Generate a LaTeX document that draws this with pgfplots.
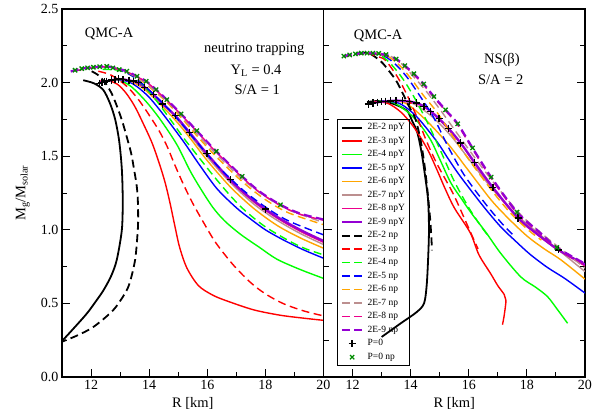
\documentclass[border=0pt]{standalone}
\usepackage{fontspec}
\setmainfont{Liberation Serif}
\usepackage{pgfplots}
\pgfplotsset{compat=1.18}
\definecolor{ggreen}{RGB}{0,255,0}
\definecolor{gorange}{RGB}{255,165,0}
\definecolor{gbrown}{RGB}{188,143,143}
\definecolor{gviolet}{RGB}{148,0,211}
\definecolor{ggreenfour}{RGB}{0,139,0}
\pgfplotsset{
  panel/.style={
    scale only axis, width=261.5pt, height=368pt,
    xmin=11, xmax=20, ymin=0, ymax=2.5,
    xtick={12,14,...,20}, minor xtick={11,13,...,19},
    ytick={0,0.5,...,2.5}, minor ytick={0.25,0.75,...,2.25},
    tick align=inside, major tick length=8pt, minor tick length=5pt,
    xtick pos=left,
    axis line style={line width=1.1pt},
    every tick/.style={black, line width=0.9pt},
    ticklabel style={font=\fontsize{14}{16}\selectfont},
    /pgf/number format/assume math mode=true,
    yticklabel style={/pgf/number format/fixed, /pgf/number format/fixed zerofill, /pgf/number format/precision=1},
    xlabel={R [km]},
    every axis x label/.style={at={(axis description cs:0.5,-0.073)}, anchor=center, font=\fontsize{14.5}{16}\selectfont},
    legend image code/.code={\draw[mark repeat=2,mark phase=2,##1] plot coordinates {(0pt,0pt) (10.25pt,0pt) (20.5pt,0pt)};},
  },
  sl/.style={no marks, smooth, line width=1.4pt, solid},
  dl/.style={no marks, smooth, line width=1.4pt, dash pattern=on 8pt off 4.5pt},
  pz/.style={only marks, mark=+, mark size=3.6pt, black, mark options={line width=1.4pt, solid}},
  xz/.style={only marks, mark=x, mark size=3pt, ggreenfour, mark options={line width=1.3pt, solid}},
}
\newcommand{\tf}{\fontsize{14.5}{17}\selectfont}
\begin{document}
\begin{tikzpicture}
\path[use as bounding box] (-62pt,-37pt) rectangle (539pt,377pt);
% ---------------- left panel ----------------
\begin{axis}[panel, ytick pos=left,
  ylabel={M\textsubscript{g}/M\textsubscript{solar}},
  every axis y label/.style={at={(axis description cs:-0.15,0.5)}, rotate=90, anchor=center, font=\fontsize{14.5}{16}\selectfont}]
\addplot[sl, black, line width=1.8pt] coordinates {(11.73,2.016) (12.1,1.995) (12.42,1.95) (12.65,1.86) (12.83,1.75) (12.97,1.6) (13.06,1.41) (13.09,1.2) (13.06,1.0) (12.89,0.8) (12.7,0.69) (12.43,0.59) (12.15,0.51) (11.85,0.43) (11.4,0.33) (11.0,0.245) (10.8,0.215)};
\addplot[sl, red] coordinates {(12.3,2.01) (12.6,2.012) (12.9,1.99) (13.2,1.93) (13.5,1.84) (13.8,1.72) (14.1,1.59) (14.35,1.45) (14.55,1.32) (14.72,1.18) (14.88,1.03) (15.05,0.88) (15.3,0.74) (15.7,0.62) (16.2,0.555) (16.7,0.515) (17.6,0.456) (18.5,0.42) (19.3,0.4) (20.0,0.385)};
\addplot[sl, ggreen] coordinates {(12.4,2.005) (12.7,2.015) (13.0,2.015) (13.4,1.97) (13.9,1.87) (14.38,1.75) (14.95,1.58) (15.41,1.40) (15.8,1.27) (16.2,1.15) (16.6,1.06) (17.14,0.97) (17.8,0.88) (18.4,0.80) (19.2,0.73) (20,0.67)};
\addplot[sl, blue] coordinates {(12.5,2.008) (12.9,2.02) (13.3,2.005) (13.6,1.97) (14.0,1.9) (14.5,1.78) (15.18,1.60) (15.7,1.45) (16.33,1.28) (17.0,1.15) (17.48,1.075) (18.0,1.0) (18.63,0.93) (19.3,0.865) (20,0.807)};
\addplot[sl, gorange] coordinates {(12.5,2.008) (12.94,2.022) (13.3,2.015) (13.8,1.96) (14.3,1.87) (14.9,1.745) (15.4,1.625) (16.0,1.47) (16.8,1.29) (17.6,1.145) (18.4,1.03) (19.2,0.945) (20,0.875)};
\addplot[sl, gbrown] coordinates {(12.5,2.008) (12.94,2.022) (13.35,2.015) (13.9,1.96) (14.4,1.87) (14.9,1.765) (15.4,1.645) (16.0,1.495) (16.8,1.32) (17.6,1.175) (18.4,1.065) (19.2,0.975) (20,0.9)};
\addplot[sl, magenta] coordinates {(12.5,2.008) (12.94,2.022) (13.4,2.012) (13.9,1.965) (14.4,1.875) (14.9,1.772) (15.4,1.657) (16.0,1.508) (16.8,1.332) (17.6,1.19) (18.4,1.08) (19.2,0.99) (20,0.915)};
\addplot[sl, gviolet, line width=2.2pt] coordinates {(12.3,2.0) (12.5,2.008) (12.94,2.024) (13.3,2.015) (13.63,2.0) (13.84,1.968) (14.15,1.918) (14.46,1.855) (14.9,1.776) (15.39,1.662) (15.99,1.517) (16.79,1.34) (17.4,1.23) (18.0,1.14) (18.6,1.065) (19.3,0.99) (20,0.925)};
\addplot[dl, black, line width=1.8pt] coordinates {(12.02,2.077) (12.25,2.05) (12.48,2.0) (12.7,1.93) (12.89,1.84) (13.07,1.74) (13.23,1.63) (13.38,1.52) (13.48,1.41) (13.57,1.3) (13.61,1.2) (13.62,1.05) (13.58,0.92) (13.52,0.80) (13.4,0.69) (13.23,0.59) (12.77,0.456) (12.08,0.34) (11.5,0.28) (11.0,0.24) (10.8,0.228)};
\addplot[dl, red] coordinates {(12.25,2.077) (12.7,2.05) (13.23,1.975) (13.65,1.88) (14.03,1.77) (14.35,1.67) (14.61,1.57) (14.8,1.48) (14.95,1.41) (15.2,1.3) (15.5,1.18) (15.9,1.04) (16.3,0.91) (16.9,0.76) (17.5,0.64) (18.0,0.565) (18.6,0.50) (19.3,0.45) (20.0,0.415)};
\addplot[dl, ggreen] coordinates {(12.4,2.09) (12.9,2.085) (13.3,2.06) (13.7,2.0) (14.2,1.89) (14.8,1.73) (15.2,1.62) (15.64,1.51) (16.2,1.37) (16.8,1.23) (17.3,1.13) (18.0,1.02) (18.86,0.92) (19.4,0.87) (20,0.83)};
\addplot[dl, blue] coordinates {(12.0,2.1) (12.5,2.108) (12.9,2.095) (13.5,2.035) (14.1,1.93) (14.6,1.835) (15.1,1.725) (15.6,1.605) (16.3,1.445) (17.2,1.275) (18.0,1.155) (18.8,1.06) (20,0.966)};
\addplot[dl, gorange] coordinates {(12.0,2.1) (12.5,2.108) (13.0,2.09) (13.6,2.032) (14.2,1.938) (14.6,1.868) (15.1,1.763) (15.6,1.648) (16.3,1.498) (17.2,1.328) (18.0,1.205) (18.8,1.115) (20,1.035)};
\addplot[dl, gbrown] coordinates {(12.0,2.1) (12.5,2.108) (13.0,2.09) (13.6,2.036) (14.2,1.945) (14.6,1.876) (15.1,1.776) (15.6,1.662) (16.3,1.515) (17.2,1.345) (18.0,1.225) (18.8,1.135) (20,1.05)};
\addplot[dl, magenta] coordinates {(11.45,2.08) (12.08,2.101) (12.54,2.107) (12.97,2.088) (13.23,2.073) (13.58,2.039) (13.9,2.005) (14.24,1.948) (14.61,1.879) (15.1,1.782) (15.64,1.668) (16.31,1.527) (17.2,1.357) (17.8,1.255) (18.52,1.165) (19.2,1.105) (20,1.065)};
\addplot[dl, gviolet, line width=2.2pt] coordinates {(11.3,2.075) (11.45,2.084) (11.68,2.095) (12.08,2.104) (12.54,2.11) (12.97,2.092) (13.23,2.077) (13.58,2.043) (13.9,2.009) (14.24,1.952) (14.61,1.884) (15.1,1.787) (15.64,1.673) (16.31,1.533) (17.2,1.363) (17.8,1.26) (18.52,1.17) (19.2,1.11) (20,1.07)};
\addplot[pz] coordinates {(12.3,1.995) (12.37,2.0) (12.46,2.005) (12.54,2.01) (12.7,2.018) (12.82,2.022) (12.94,2.024) (13.1,2.022) (13.3,2.015) (13.46,2.01) (13.63,2.0) (13.84,1.968) (14.15,1.918) (14.46,1.855) (14.9,1.776) (15.39,1.662) (15.99,1.517) (16.79,1.34) (18.0,1.14)};
\addplot[xz] coordinates {(11.45,2.084) (11.68,2.095) (11.88,2.1) (12.08,2.104) (12.3,2.108) (12.54,2.11) (12.75,2.1) (12.97,2.088) (13.23,2.077) (13.58,2.043) (13.9,2.009) (14.24,1.952) (14.61,1.884) (15.1,1.787) (15.64,1.673) (16.31,1.533) (17.2,1.363) (18.52,1.17)};
\node[font=\tf] at (axis cs:12.62,2.33) {QMC-A};
\node[font=\tf] at (axis cs:17.62,2.224) {neutrino trapping};
\node[font=\tf] at (axis cs:17.68,2.08) {Y\textsubscript{L} = 0.4};
\node[font=\tf] at (axis cs:17.72,1.95) {S/A = 1};
\end{axis}
% ---------------- right panel ----------------
\begin{axis}[panel, at={(261.5pt,0pt)}, anchor=south west, ytick pos=both, yticklabels={},
  legend style={at={(rel axis cs:0.053,0.701)}, anchor=north west, draw=black, line width=0.8pt, fill=none,
    font=\fontsize{9.5}{11}\selectfont, inner sep=3pt, row sep=3pt, column sep=3pt,
    nodes={inner sep=1.2pt, text height=6.3pt, text depth=1.8pt}},
  legend cell align=left,
  legend entries={2E-2 npY,2E-3 npY,2E-4 npY,2E-5 npY,2E-6 npY,2E-7 npY,2E-8 npY,2E-9 npY,2E-2 np,2E-3 np,2E-4 np,2E-5 np,2E-6 np,2E-7 np,2E-8 np,2E-9 np,P=0,P=0 np}]
\addplot[sl, black, line width=1.8pt] coordinates {(12.5,1.868) (12.9,1.875) (13.3,1.862) (13.6,1.84) (13.89,1.805) (14.05,1.74) (14.23,1.66) (14.38,1.52) (14.5,1.36) (14.6,1.2) (14.63,1.0) (14.6,0.8) (14.55,0.62) (14.46,0.5) (14.2,0.44) (13.66,0.365) (13.0,0.272)};
\addplot[sl, red] coordinates {(12.7,1.872) (13.2,1.86) (13.66,1.80) (14.1,1.70) (14.57,1.55) (14.9,1.41) (15.15,1.295) (15.5,1.15) (16.05,0.98) (16.35,0.83) (16.76,0.70) (17.0,0.62) (17.22,0.56) (17.28,0.52) (17.22,0.42) (17.16,0.355)};
\addplot[sl, ggreen] coordinates {(12.9,1.875) (13.4,1.865) (13.9,1.80) (14.3,1.72) (14.69,1.61) (15.0,1.48) (15.38,1.32) (15.75,1.21) (16.1,1.11) (16.6,0.98) (17.1,0.84) (17.79,0.68) (18.3,0.61) (18.71,0.546) (19.06,0.456) (19.4,0.365)};
\addplot[sl, blue] coordinates {(13.0,1.875) (13.6,1.86) (14.2,1.77) (14.9,1.6) (15.3,1.48) (15.72,1.36) (16.5,1.16) (17.1,1.02) (17.6,0.925) (18.1,0.835) (18.7,0.745) (19.3,0.67) (20,0.57)};
\addplot[sl, gorange] coordinates {(13.1,1.876) (13.8,1.862) (14.5,1.75) (15.3,1.58) (16.0,1.40) (16.78,1.2) (17.4,1.07) (18.02,0.955) (18.6,0.87) (19.17,0.796) (20,0.665)};
\addplot[sl, gbrown] coordinates {(13.2,1.876) (14.0,1.864) (14.7,1.775) (15.4,1.635) (16.1,1.455) (16.8,1.28) (17.6,1.11) (18.4,0.975) (19.2,0.845) (20,0.716)};
\addplot[sl, magenta] coordinates {(13.3,1.877) (14.0,1.868) (14.5,1.83) (15.0,1.745) (15.4,1.66) (15.8,1.565) (16.2,1.45) (16.8,1.29) (17.7,1.075) (18.4,0.96) (19.1,0.86) (20,0.755)};
\addplot[sl, gviolet, line width=2.2pt] coordinates {(12.55,1.855) (13.0,1.87) (13.5,1.878) (13.95,1.872) (14.2,1.862) (14.46,1.839) (14.69,1.805) (14.98,1.755) (15.3,1.69) (15.72,1.59) (16.2,1.458) (16.83,1.288) (17.7,1.08) (18.4,0.965) (19.08,0.864) (20,0.765)};
\addplot[dl, black, line width=1.8pt] coordinates {(12.2,2.2) (12.56,2.2) (12.97,2.145) (13.25,2.08) (13.54,2.0) (13.94,1.84) (14.17,1.75) (14.35,1.6) (14.47,1.45) (14.56,1.3) (14.63,1.16) (14.68,1.05) (14.72,0.92) (14.73,0.86)};
\addplot[dl, red] coordinates {(12.5,2.2) (12.9,2.175) (13.14,2.15) (13.54,2.04) (13.89,1.91) (14.25,1.75) (14.55,1.6) (14.9,1.45) (15.45,1.25) (15.82,1.09) (16.18,0.93) (16.32,0.87)};
\addplot[dl, ggreen] coordinates {(12.6,2.2) (13.0,2.18) (13.35,2.12) (13.75,2.02) (14.15,1.89) (14.6,1.72) (15.0,1.55) (15.5,1.33) (16.0,1.15) (16.4,1.03) (16.7,0.95)};
\addplot[dl, blue] coordinates {(12.7,2.2) (13.1,2.18) (13.5,2.12) (13.9,2.03) (14.35,1.9) (14.8,1.76) (15.3,1.56) (15.85,1.37) (16.6,1.17) (17.2,1.03) (17.6,0.95)};
\addplot[dl, gorange] coordinates {(12.8,2.2) (13.2,2.18) (13.6,2.12) (14.0,2.03) (14.45,1.91) (14.9,1.8) (15.5,1.62) (16.1,1.45) (16.9,1.24) (17.5,1.1) (18.1,0.99) (18.5,0.93)};
\addplot[dl, gbrown] coordinates {(12.9,2.2) (13.3,2.18) (13.7,2.125) (14.1,2.04) (14.5,1.95) (15.0,1.82) (15.6,1.655) (16.3,1.465) (17.0,1.285) (17.8,1.1) (18.6,0.96) (19.3,0.85) (20,0.74)};
\addplot[dl, magenta] coordinates {(11.7,2.175) (12.1,2.19) (12.6,2.195) (13.1,2.185) (13.5,2.155) (13.8,2.11) (14.11,2.053) (14.45,1.983) (14.8,1.898) (15.2,1.808) (15.62,1.712) (16.13,1.548) (16.77,1.35) (17.66,1.112) (18.4,0.983) (19.03,0.873) (20,0.765)};
\addplot[dl, gviolet, line width=2.2pt] coordinates {(11.7,2.18) (12.1,2.195) (12.6,2.2) (13.1,2.19) (13.5,2.16) (13.8,2.115) (14.11,2.06) (14.45,1.99) (14.8,1.905) (15.2,1.815) (15.62,1.72) (16.13,1.556) (16.77,1.358) (17.66,1.12) (18.4,0.99) (19.03,0.88) (20,0.77)};
\addplot[pz] coordinates {(12.55,1.855) (12.7,1.862) (12.85,1.866) (13.0,1.87) (13.14,1.873) (13.3,1.876) (13.5,1.878) (13.71,1.878) (13.95,1.872) (14.2,1.862) (14.46,1.839) (14.69,1.805) (14.98,1.755) (15.3,1.69) (15.72,1.59) (16.2,1.458) (16.83,1.288) (17.7,1.08) (19.08,0.864)};
\addplot[xz] coordinates {(11.7,2.18) (11.9,2.188) (12.1,2.195) (12.3,2.2) (12.5,2.2) (12.7,2.2) (12.9,2.198) (13.15,2.19) (13.5,2.16) (13.8,2.115) (14.11,2.06) (14.45,1.99) (14.8,1.905) (15.2,1.815) (15.62,1.72) (16.13,1.556) (16.77,1.358) (17.66,1.12) (19.03,0.88)};
\node[font=\tf] at (axis cs:12.88,2.32) {QMC-A};
\node[font=\tf] at (axis cs:17.14,2.157) {NS(β)};
\node[font=\tf] at (axis cs:17.1,2.02) {S/A = 2};
\end{axis}
\end{tikzpicture}
\end{document}
